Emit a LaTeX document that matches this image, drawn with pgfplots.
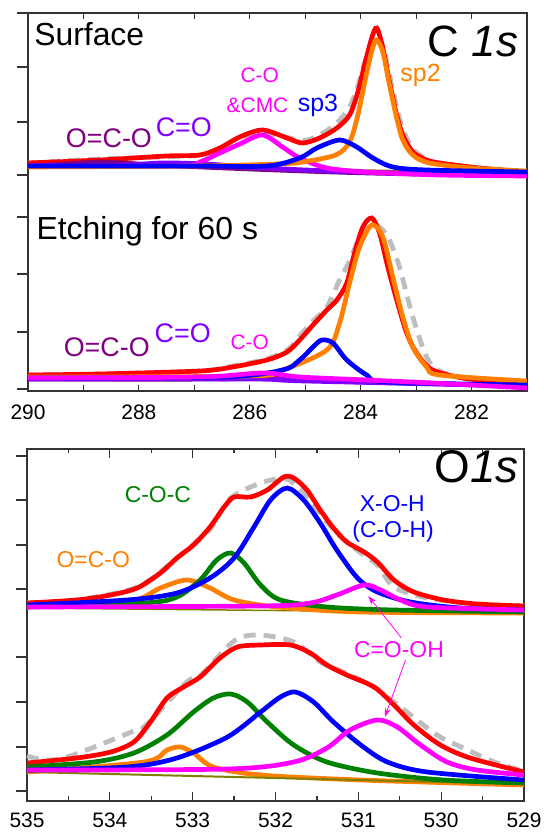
\documentclass[border=0pt]{standalone}
\usepackage{fontspec}
\setmainfont{Liberation Sans}
\usepackage{pgfplots}
\pgfplotsset{compat=1.18}
\usetikzlibrary{arrows.meta}

\definecolor{cred}{RGB}{255,0,0}
\definecolor{corange}{RGB}{255,128,0}
\definecolor{cblue}{RGB}{0,0,255}
\definecolor{cmag}{RGB}{255,0,255}
\definecolor{cgreen}{RGB}{0,128,0}
\definecolor{cpurple}{RGB}{128,0,128}
\definecolor{cviolet}{RGB}{128,0,255}
\definecolor{cgray}{RGB}{190,190,190}
\definecolor{colive}{RGB}{128,128,0}

\newcommand{\fs}[1]{\fontsize{#1}{#1}\selectfont}

\pgfplotsset{
  xps/.style={
    scale only axis, anchor=south west, x dir=reverse,
    axis line style={line width=1.2bp, draw=black!80},
    tick style={line width=1.2bp, black!80},
    tick align=inside, ytick=\empty,
    clip mode=individual,
    tick label style={font=\fs{21}},
    /pgf/number format/assume math mode=true,
    /pgf/number format/1000 sep={},
  },
  yticks/.style={
    scale only axis, anchor=south west,
    axis line style={draw=none}, xtick=\empty,
    tick align=outside, major tick length=11bp, ytick pos=left,
    yticklabels={}, tick style={line width=1.2bp, black!80},
  },
  comp/.style={smooth, tension=0.5, line width=4.7bp, no marks},
  meas/.style={smooth, tension=0.5, line width=4.8bp, no marks, cgray, dash pattern=on 12bp off 8bp},
}

\begin{document}
\begin{tikzpicture}
\path[use as bounding box] (0,0) rectangle (544bp,832bp);

% ---------- C 1s ----------
\begin{axis}[xps, at={(28bp,441bp)}, width=499bp, height=378bp,
  xmin=281, xmax=290, ymin=0, ymax=378,
  xtick={282,284,...,290}, minor xtick={281,283,...,289},
  major tick length=6bp, minor tick length=6bp,
  xticklabel style={inner sep=0pt, yshift=-14bp}]

% surface
\addplot[meas] coordinates {(290,228)(288.7,232)(287.6,234)(286.9,236)(286.5,244)(286.2,253)(285.8,258)(285.35,254)(285.05,250)(284.74,256)(284.43,268)(284.2,284)(284.05,305)(283.93,328)(283.8,350)(283.71,356)(283.6,345)(283.48,316)(283.35,284)(283.24,262)(283.06,242)(282.81,232)(282.58,228)(281.86,223)(281,219)};
\addplot[comp, cred] coordinates {(290,228)(288.7,231)(287.5,235)(286.9,236)(286.54,243)(286.18,254)(285.77,261)(285.33,253)(285.05,248)(284.74,253)(284.43,263)(284.2,276)(284.05,299)(283.93,326)(283.8,353)(283.71,363)(283.6,343)(283.48,309)(283.35,276)(283.24,256)(283.06,239)(282.81,231)(282.58,228)(281.86,223)(281,219)};
\addplot[comp, colive, line width=1.5bp] coordinates {(290,226)(286,223)(283,220)(281,218)};
\addplot[comp, cpurple] coordinates {(290,225)(289.3,227)(288.7,229)(288,227)(287.3,225)(286,222)(284.5,219)(283,217)(281,216)};
\addplot[comp, cviolet] coordinates {(290,225)(288.5,225)(287.6,228)(286.8,227)(286,224)(285,221)(283.5,218)(281,217)};
\addplot[comp, cmag] coordinates {(290,225)(287.26,225)(286.9,229)(286.54,238)(286.18,247)(285.77,256)(285.41,244)(285.1,233)(284.61,223)(283.89,219)(282.58,216)(281,215)};
\addplot[comp, corange] coordinates {(290,224)(287,225)(285.5,227)(285.05,229)(284.45,236)(284.2,249)(284.05,276)(283.9,316)(283.78,344)(283.71,351)(283.6,339)(283.48,306)(283.35,273)(283.24,251)(283.06,236)(282.76,228)(282,223)(281,220)};
\addplot[comp, cblue] coordinates {(290,225)(287,225)(285.69,225)(285.1,233)(284.79,243)(284.38,251)(284.07,244)(283.78,233)(283.42,224)(282.81,221)(281,219)};

% etching 60 s
\addplot[meas] coordinates {(290,16)(288.7,17)(286.9,20)(286.3,25)(285.7,32)(285.3,42)(285.1,55)(284.86,70)(284.61,84)(284.38,111)(284.2,130)(284.05,150)(283.9,163)(283.75,166)(283.6,161)(283.48,151)(283.3,124)(283.06,74)(282.81,34)(282.58,20)(282,12)(281,8)};
\addplot[comp, cred] coordinates {(290,16)(288.7,17)(286.9,20)(286.31,24)(285.69,31)(285.33,39)(285.1,51)(284.86,66)(284.61,81)(284.43,91)(284.25,108)(284.11,138)(283.96,164)(283.8,173)(283.66,158)(283.51,124)(283.35,91)(283.17,58)(282.99,38)(282.7,21)(282.04,12)(281,8)};
\addplot[comp, cpurple] coordinates {(290,12)(286.5,12)(285.8,15)(285.2,12)(284,9)(281,5)};
\addplot[comp, cviolet] coordinates {(290,12)(286,12)(285,10)(281,5)};
\addplot[comp, corange] coordinates {(290,14)(286,15)(285.41,21)(284.61,41)(284.38,68)(284.2,108)(284.02,144)(283.8,166)(283.6,154)(283.42,114)(283.24,74)(283.06,44)(282.81,24)(282.58,16)(281,10)};
\addplot[comp, cblue] coordinates {(290,13)(286.5,14)(285.41,21)(285.1,31)(284.86,44)(284.7,51)(284.5,48)(284.25,31)(283.89,16)(283.53,9)(281,6)};
\addplot[comp, cmag] coordinates {(290,13)(286.9,14)(285.77,18)(285.1,14)(283.89,11)(282.7,8)(281,3)};

\node[anchor=base west, font=\fs{32}] at (axis cs:289.95,345) {Surface};
\node[anchor=base east, font=\fs{44}] at (axis cs:281.1,334) {C \textit{1s}};
\node[anchor=base, font=\fs{27}, text=cpurple] at (axis cs:288.54,243) {O=C-O};
\node[anchor=base, font=\fs{27}, text=cviolet] at (axis cs:287.19,254) {C=O};
\node[anchor=base, font=\fs{21}, text=cmag] at (axis cs:285.82,308) {C-O};
\node[anchor=base, font=\fs{21}, text=cmag] at (axis cs:285.86,278) {\&CMC};
\node[anchor=base, font=\fs{25}, text=cblue] at (axis cs:284.77,279) {sp3};
\node[anchor=base, font=\fs{25}, text=corange] at (axis cs:282.92,309) {sp2};

\node[anchor=base west, font=\fs{32}] at (axis cs:289.91,151) {Etching for 60 s};
\node[anchor=base, font=\fs{27}, text=cpurple] at (axis cs:288.58,34) {O=C-O};
\node[anchor=base, font=\fs{27}, text=cviolet] at (axis cs:287.21,48) {C=O};
\node[anchor=base, font=\fs{21}, text=cmag] at (axis cs:286.0,41) {C-O};
\end{axis}
\begin{axis}[yticks, at={(28bp,441bp)}, width=499bp, height=378bp,
  xmin=281, xmax=290, ymin=0, ymax=378, ytick={2,59,117,174,216,269,324,378}]
\end{axis}

% ---------- O 1s ----------
\begin{axis}[xps, at={(27bp,31bp)}, width=497bp, height=352bp,
  xmin=529, xmax=535, ymin=0, ymax=352,
  xtick={529,...,535}, minor xtick={529.5,530.5,...,534.5},
  major tick length=9bp, minor tick length=4.5bp,
  xticklabel style={inner sep=0pt, yshift=-12bp}]

% upper
\addplot[meas] coordinates {(535,198)(534.4,201)(533.67,214)(533.19,243)(532.79,272)(532.58,300)(532.38,311)(532.1,320)(531.86,322)(531.62,305)(531.38,279)(531.18,262)(530.97,248)(530.77,236)(530.57,214)(530.17,203)(529.57,197)(529,195)};
\addplot[comp, cred] coordinates {(535,198)(534.4,201)(533.99,206)(533.67,213)(533.39,228)(533.19,243)(532.99,256)(532.79,274)(532.62,294)(532.5,304)(532.3,304)(532.1,311)(531.9,324)(531.78,323)(531.62,311)(531.46,291)(531.3,273)(531.14,259)(530.93,249)(530.77,239)(530.57,221)(530.33,209)(529.97,201)(529.57,197)(529,195)};
\addplot[comp, colive, line width=1.5bp] coordinates {(535,193)(529,188)};
\addplot[comp, corange] coordinates {(535,194)(533.79,199)(533.39,213)(533.07,221)(532.79,213)(532.5,201)(531.98,194)(530.97,189)(529,188)};
\addplot[comp, cgreen] coordinates {(535,194)(533.59,198)(533.19,204)(532.91,221)(532.71,241)(532.54,248)(532.38,238)(532.18,216)(531.94,201)(531.38,194)(530.57,191)(529,189)};
\addplot[comp, cblue] coordinates {(535,196)(533.79,201)(533.19,208)(532.79,223)(532.5,243)(532.26,274)(532.06,301)(531.86,313)(531.66,301)(531.46,278)(531.26,251)(531.01,223)(530.77,209)(530.37,199)(529.77,193)(529,191)};
\addplot[comp, cmag] coordinates {(535,194)(532.18,195)(531.58,198)(531.26,206)(530.93,216)(530.73,211)(530.49,201)(530.17,194)(529,191)};

% lower
\addplot[meas] coordinates {(535,45)(534.6,42)(533.71,70)(533.55,77)(533.07,119)(532.9,126)(532.5,160)(532.2,166)(531.78,159)(531.46,139)(531.18,129)(530.85,116)(530.57,99)(530.05,66)(529.73,53)(529.36,39)(529,30)};
\addplot[comp, cred] coordinates {(535,38)(534.4,43)(533.99,49)(533.71,59)(533.51,79)(533.31,103)(533.11,114)(532.91,124)(532.67,143)(532.46,154)(532.18,156)(531.82,156)(531.58,148)(531.38,136)(531.14,126)(530.81,114)(530.57,96)(530.33,76)(530.01,56)(529.65,43)(529,29)};
\addplot[comp, corange] coordinates {(535,29)(533.59,39)(533.31,51)(533.15,54)(532.99,48)(532.75,34)(532.18,26)(530.97,21)(529,16)};
\addplot[comp, colive, line width=2bp] coordinates {(535,29)(529,17)};
\addplot[comp, cgreen] coordinates {(535,34)(534.19,39)(533.71,48)(533.31,66)(532.99,89)(532.75,103)(532.54,107)(532.34,99)(532.1,79)(531.78,56)(531.38,39)(530.77,28)(529.97,21)(529,18)};
\addplot[comp, cblue] coordinates {(535,31)(533.79,34)(533.19,43)(532.58,64)(532.18,89)(531.94,104)(531.76,109)(531.54,99)(531.3,79)(530.97,56)(530.65,39)(530.17,29)(529,21)};
\addplot[comp, cmag] coordinates {(535,31)(532.58,32)(531.78,39)(531.38,53)(531.1,71)(530.77,81)(530.53,74)(530.25,56)(529.93,39)(529.57,31)(529,26)};

\node[anchor=base east, font=\fs{46}] at (axis cs:529.02,318) {O\textit{1s}};
\node[anchor=base, font=\fs{23}, text=cgreen] at (axis cs:533.42,298) {C-O-C};
\node[anchor=base, font=\fs{23}, text=corange] at (axis cs:534.2,233) {O=C-O};
\node[anchor=base, font=\fs{23}, text=cblue] at (axis cs:530.59,289) {X-O-H};
\node[anchor=base, font=\fs{23}, text=cblue] at (axis cs:530.58,263) {(C-O-H)};
\node[anchor=base, font=\fs{23}, text=cmag] at (axis cs:530.51,143) {C=O-OH};
\draw[cmag, line width=0.8bp, -{Stealth[length=9bp,width=6bp]}] (axis cs:530.48,163) -- (axis cs:530.88,205);
\draw[cmag, line width=0.8bp, -{Stealth[length=9bp,width=6bp]}] (axis cs:530.43,141) -- (axis cs:530.68,84);
\end{axis}
\begin{axis}[yticks, at={(27bp,31bp)}, width=497bp, height=352bp,
  xmin=529, xmax=535, ymin=0, ymax=352, ytick={10,54,99,144,212,256,301,345}]
\end{axis}
\end{tikzpicture}
\end{document}
